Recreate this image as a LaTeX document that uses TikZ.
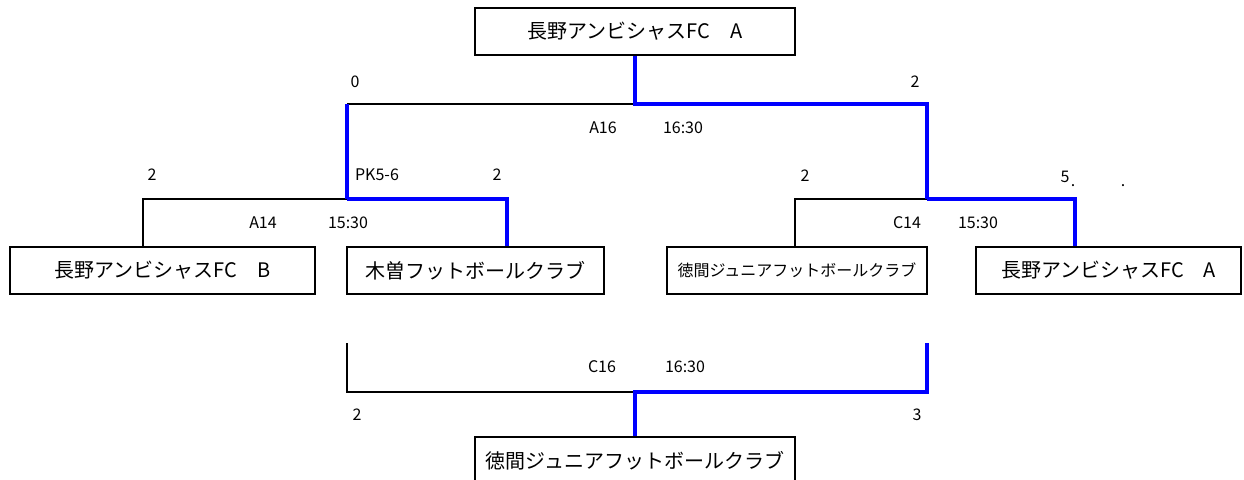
\documentclass[tikz,border=0pt]{standalone}
\usepackage{fontspec}
\setmainfont{Noto Sans CJK JP}
\usetikzlibrary{positioning}

\begin{document}
\begin{tikzpicture}
    [%%%%%%%%%%%%%%%%%%%%%%%%%%%%%%
    x=1pt,y=-1pt,
    team/.style={rectangle,draw=black,line width=2.2pt,minimum height=47pt,inner sep=0pt,font=\fontsize{20pt}{24pt}\selectfont},
    smallteam/.style={team,font=\fontsize{16pt}{19pt}\selectfont},
    tag/.style={inner sep=0pt,font=\fontsize{16pt}{19pt}\selectfont},
    lose/.style={draw=black,line width=2pt},
    win/.style={draw=blue,line width=4.5pt},
    ]%%%%%%%%%%%%%%%%%%%%%%%%%%%%%%

    \useasboundingbox (0,0) rectangle (1244,479);

    % teams
    \node[team,minimum width=320pt] at (635,31.5) (champ) {長野アンビシャスFC　A};
    \node[team,minimum width=305pt] at (162.5,270.5) (nagB) {長野アンビシャスFC　B};
    \node[team,minimum width=257pt] at (475.5,270.5) (kiso) {木曽フットボールクラブ};
    \node[smallteam,minimum width=260pt] at (797,270.5) (tokuma) {徳間ジュニアフットボールクラブ};
    \node[team,minimum width=265pt] at (1108.5,270.5) (nagA) {長野アンビシャスFC　A};
    \node[team,minimum width=320pt] at (635,460.5) (third) {徳間ジュニアフットボールクラブ};

    % bracket corners
    \coordinate (f1) at (347,104);
    \coordinate (f2) at (927,104);
    \coordinate (a1) at (143,199);
    \coordinate (a2) at (507,199);
    \coordinate (c1) at (795,199);
    \coordinate (c2) at (1075,199);
    \coordinate (t1) at (347,343);
    \coordinate (t2) at (927,343);
    \coordinate (tm) at (635,392);

    % A14
    \draw[lose] (a1 |- nagB.north) -- (a1) -- (f1 |- a1);
    \draw[win] (f1 |- a2) -- (a2) -- (a2 |- kiso.north);
    \node[tag] at (263,223) (a14) {A14};
    \node[tag] at (348,223) (a14time) {15:30};
    \node[tag] at (152,175) (a14s1) {2};
    \node[tag] at (377,175) (a14pk) {PK5-6};
    \node[tag] at (497,175) (a14s2) {2};

    % C14
    \draw[lose] (c1 |- tokuma.north) -- (c1) -- (f2 |- c1);
    \draw[win] (f2 |- c2) -- (c2) -- (c2 |- nagA.north);
    \node[tag] at (907,223) (c14) {C14};
    \node[tag] at (978,223) (c14time) {15:30};
    \node[tag] at (805,176) (c14s1) {2};
    \node[tag] at (1065,177) (c14s2) {5};
    \node[tag] at (1073,186) (dot1) {.};
    \node[tag] at (1123,186) (dot2) {.};

    % A16
    \draw[lose] (f1) -- (champ.south |- f1);
    \draw[win] (champ.south) |- (f2) -- (f2 |- c2);
    \draw[win] (f1) -- (f1 |- a2);
    \node[tag] at (603,128) (a16) {A16};
    \node[tag] at (683,128) (a16time) {16:30};
    \node[tag] at (355,82) (a16s1) {0};
    \node[tag] at (915,82) (a16s2) {2};

    % C16
    \draw[lose] (t1) |- (tm);
    \draw[win] (t2) |- (tm) -- (third.north);
    \node[tag] at (602,367) (c16) {C16};
    \node[tag] at (685,367) (c16time) {16:30};
    \node[tag] at (357,415) (c16s1) {2};
    \node[tag] at (917,415) (c16s2) {3};

\end{tikzpicture}
\end{document}
